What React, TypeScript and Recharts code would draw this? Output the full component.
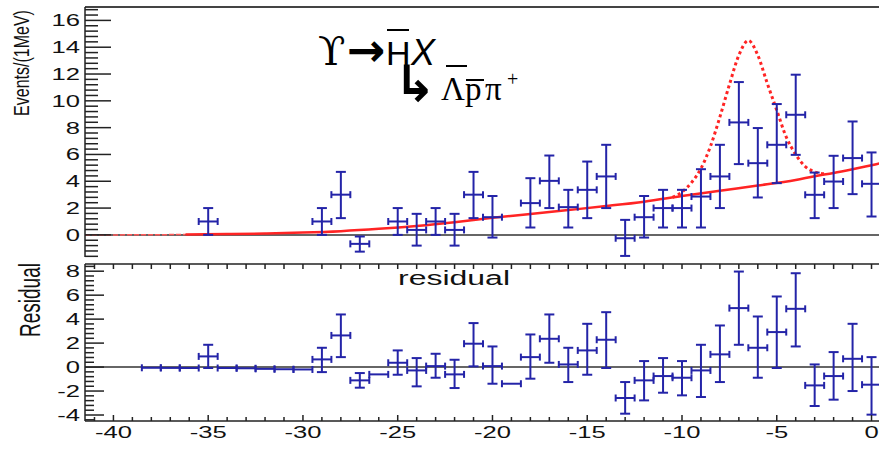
import React from 'react';
import { ComposedChart, Scatter, Line, XAxis, YAxis, ErrorBar, ReferenceLine } from 'recharts';

// upper panel: events per bin (bins of 1 MeV, centred on integers)
const topX = [-35, -29, -28, -27, -25, -24, -23, -22, -21, -20, -18, -17, -16, -15, -14, -13, -12, -11, -10, -9, -8, -7, -6, -5, -4, -3, -2, -1, 0];
const topY = [1.0, 1.0, 3.0, -0.67, 1.0, 0.37, 1.0, 0.37, 3.0, 1.32, 2.37, 4.03, 2.07, 3.36, 4.36, -0.25, 1.32, 2.0, 2.0, 2.86, 4.36, 8.39, 5.35, 6.72, 8.96, 2.99, 3.98, 5.73, 3.81];
const topLo = [0, 0, 1.25, -1.25, 0, -0.8, 0, -0.8, 1.25, -0.2, 0.55, 2.0, 0.55, 1.25, 2.0, -1.57, -0.2, 0.55, 0.55, 0.55, 2.0, 5.28, 2.79, 3.86, 5.97, 1.25, 2.0, 3.04, 1.37];
const topHi = [2.0, 2.0, 4.7, -0.12, 2.0, 1.57, 2.0, 1.57, 4.7, 2.9, 4.23, 5.92, 3.36, 5.47, 6.72, 1.12, 2.9, 3.36, 3.36, 4.9, 6.72, 11.4, 7.97, 9.76, 11.95, 4.65, 5.9, 8.46, 6.15];

// background fit (dashed outside the fit range, solid inside)
const fitOutX = [-41.5, -40, -38, -36.2];
const fitOutY = [0, 0, 0.01, 0.03];
const fitX = [-36.2, -34, -32, -30, -28, -26, -24, -22, -20, -18, -16, -14, -12, -10, -8, -6, -4, -3, -2, -1, 0, 0.5];
const fitY = [0.03, 0.06, 0.1, 0.17, 0.28, 0.45, 0.67, 0.95, 1.28, 1.56, 1.85, 2.15, 2.48, 2.9, 3.3, 3.68, 4.1, 4.38, 4.62, 4.9, 5.2, 5.35];

// signal + background (dotted)
const peakX = [-10.5, -10, -9.5, -9, -8.5, -8, -7.5, -7, -6.5, -6, -5.5, -5, -4.5, -4, -3.5, -3, -2.5];
const peakY = [2.8, 3.2, 3.9, 4.95, 6.6, 8.8, 11.2, 13.4, 14.5, 13.4, 11.3, 9.3, 7.3, 6.0, 5.1, 4.7, 4.55];

// lower panel: residuals
const resX = topX;
const resY = [0.89, 0.64, 2.64, -1.11, 0.36, -0.28, 0.08, -0.61, 1.95, 0.08, 0.83, 2.36, 0.22, 1.39, 2.28, -2.58, -1.11, -0.75, -0.89, -0.28, 1.06, 4.92, 1.61, 2.92, 4.86, -1.53, -0.75, 0.69, -1.47];
const resLo = [-0.08, -0.42, 0.83, -1.72, -0.64, -1.61, -0.89, -1.75, 0.06, -1.39, -0.97, 0.36, -1.25, -0.64, -0.08, -3.89, -2.78, -2.14, -2.36, -2.5, -1.25, 1.86, -0.89, -0.08, 1.72, -3.25, -2.72, -2.0, -3.97];
const resHi = [1.86, 1.61, 4.39, -0.5, 1.39, 0.75, 1.11, 0.61, 3.67, 1.72, 2.72, 4.39, 1.61, 3.61, 4.58, -1.25, 0.5, 0.75, 0.5, 1.86, 3.47, 7.97, 4.22, 5.89, 7.83, 0.22, 1.25, 3.61, 0.83];
const zeroX = [-38, -37, -36, -34, -33, -32, -31, -30, -26, -19];
const zeroRes = [-0.06, -0.07, -0.08, -0.08, -0.1, -0.15, -0.18, -0.2, -0.61, -1.39];

const xLabels = [-40, -35, -30, -25, -20, -15, -10, -5, 0];

const BLUE = '#2424a8';
const RED = '#ff2424';
const AX = '#222';
const W = 881;
const PL = 85;
const SX = 1.6;

const topPts = topX.map((x, i) => ({ x, y: topY[i], ey: [topY[i] - topLo[i], topHi[i] - topY[i]], ex: 0.5 }));
const resPts = resX.map((x, i) => ({ x, y: resY[i], ey: [resY[i] - resLo[i], resHi[i] - resY[i]], ex: 0.5 }));
const zeroPts = zeroX.map((x, i) => ({ x, y: zeroRes[i], ex: 0.5 }));
const fitOut = fitOutX.map((x, i) => ({ x, v: fitOutY[i] }));
const fit = fitX.map((x, i) => ({ x, v: fitY[i] }));
const peak = peakX.map((x, i) => ({ x, v: peakY[i] }));

const minorTicks = (lo: number, hi: number) => {
  const out: number[] = [];
  for (let k = Math.ceil(lo / 0.4); k * 0.4 <= hi; k++) out.push(Math.round(k * 0.4 * 10) / 10);
  return out;
};
const isMajor = (v: number) => Math.abs(v / 2 - Math.round(v / 2)) < 1e-6;
const xTicks: number[] = [];
for (let v = -41; v <= 0; v++) xTicks.push(v);

const label = (x: number, y: number, txt: string | number, anchor: string) => (
  <text transform={`translate(${x},${y}) scale(${SX},1)`} textAnchor={anchor} fontSize={16}
    fontFamily="'Liberation Sans', Arial, sans-serif" fill="#111">{txt}</text>
);

const yTick = (majLen: number, minLen: number) => (props: any) => {
  const { y, payload } = props;
  const v = payload.value;
  const major = isMajor(v);
  return (
    <g>
      <line x1={PL} x2={PL + (major ? majLen : minLen)} y1={y} y2={y} stroke={AX} strokeWidth={1.5} />
      {major && label(80, y + 6, Math.round(v), 'end')}
    </g>
  );
};

const BOT_H = 211;
const X_H = 52;
const PT = 2;
const PB = BOT_H - X_H;

const XTick = (props: any) => {
  const { x, payload } = props;
  const v = payload.value;
  const major = v % 5 === 0;
  return (
    <g>
      <line x1={x} x2={x} y1={PB} y2={PB - (major ? 6 : 4)} stroke={AX} strokeWidth={1.5} />
      <line x1={x} x2={x} y1={PT} y2={PT + 5} stroke={AX} strokeWidth={1.5} />
      {xLabels.includes(v) && label(x, 176, v, 'middle')}
    </g>
  );
};

const noDot = () => <g />;

export default function App() {
  return (
    <div style={{ position: 'absolute', left: 0, top: 0, width: 879, height: 473, overflow: 'hidden', background: '#fff' }}>
      <div style={{ position: 'absolute', left: 0, top: 0 }}>
        <ComposedChart width={W} height={260} margin={{ top: 7, right: 0, bottom: 3, left: 0 }}>
          <XAxis dataKey="x" type="number" domain={[-41.5, 0.5]} allowDataOverflow hide />
          <YAxis type="number" domain={[-1.65, 17]} allowDataOverflow width={PL} ticks={minorTicks(-1.65, 17)}
            interval={0} tickLine={false} axisLine={{ stroke: AX, strokeWidth: 1.5 }} tick={yTick(26, 13)} />
          <ReferenceLine y={17} stroke="#444" strokeWidth={2} />
          <ReferenceLine y={0} stroke="#333" strokeWidth={1.5} />
          <Line data={fitOut} dataKey="v" type="monotone" stroke="#ff5a5a" strokeWidth={1.5} strokeDasharray="5 2" dot={false} isAnimationActive={false} />
          <Line data={fit} dataKey="v" type="monotone" stroke={RED} strokeWidth={2.5} dot={false} isAnimationActive={false} />
          <Line data={peak} dataKey="v" type="monotone" stroke={RED} strokeWidth={3} strokeDasharray="3 3" dot={false} isAnimationActive={false} />
          <Scatter data={topPts} dataKey="y" shape={noDot} isAnimationActive={false}>
            <ErrorBar dataKey="ey" direction="y" width={5} stroke={BLUE} strokeWidth={2} />
            <ErrorBar dataKey="ex" direction="x" width={3.5} stroke={BLUE} strokeWidth={2} />
          </Scatter>
        </ComposedChart>
      </div>
      <div style={{ position: 'absolute', left: 0, top: 262, background: '#fff' }}>
        <ComposedChart width={W} height={BOT_H} margin={{ top: PT, right: 0, bottom: 0, left: 0 }}>
          <XAxis dataKey="x" type="number" domain={[-41.5, 0.5]} allowDataOverflow height={X_H} ticks={xTicks}
            interval={0} tickLine={false} axisLine={{ stroke: AX, strokeWidth: 1.5 }} tick={XTick} />
          <YAxis type="number" domain={[-4.5, 8.6]} allowDataOverflow width={PL} ticks={minorTicks(-4.5, 8.6)}
            interval={0} tickLine={false} axisLine={{ stroke: AX, strokeWidth: 1.5 }} tick={yTick(19, 9)} />
          <ReferenceLine y={8.6} stroke={AX} strokeWidth={1.5} />
          <ReferenceLine y={0} stroke="#333" strokeWidth={1.5} />
          <Scatter data={zeroPts} dataKey="y" shape={noDot} isAnimationActive={false}>
            <ErrorBar dataKey="ex" direction="x" width={3.5} stroke={BLUE} strokeWidth={2} />
          </Scatter>
          <Scatter data={resPts} dataKey="y" shape={noDot} isAnimationActive={false}>
            <ErrorBar dataKey="ey" direction="y" width={5} stroke={BLUE} strokeWidth={2} />
            <ErrorBar dataKey="ex" direction="x" width={3.5} stroke={BLUE} strokeWidth={2} />
          </Scatter>
        </ComposedChart>
      </div>
      <svg width={879} height={473} style={{ position: 'absolute', left: 0, top: 0, pointerEvents: 'none' }}>
        <text transform={`translate(29,63) scale(1.35,1) rotate(-90)`} textAnchor="middle" fontSize={16}
          fontFamily="'Liberation Sans', Arial, sans-serif" fill="#111">Events/(1MeV)</text>
        <text transform={`translate(40,300) scale(${SX},1) rotate(-90)`} textAnchor="middle" fontSize={19}
          fontFamily="'Liberation Sans', Arial, sans-serif" fill="#111">Residual</text>
        <text transform={`translate(454,285) scale(${SX},1)`} textAnchor="middle" fontSize={20}
          fontFamily="'Liberation Sans', Arial, sans-serif" fill="#111">residual</text>
        <g fill="#000">
          <text>
            <tspan x={318} y={65} fontSize={40} fontFamily="'DejaVu Serif', 'Liberation Serif', serif">ϒ</tspan>
            <tspan x={347} y={66} fontSize={46} fontWeight="bold" fontFamily="'DejaVu Sans', sans-serif">→</tspan>
            <tspan x={386} y={65} fontSize={34} fontFamily="'Liberation Sans', Arial, sans-serif">H</tspan>
            <tspan x={411} y={65} fontSize={36} fontStyle="italic" fontFamily="'Liberation Sans', Arial, sans-serif">X</tspan>
            <tspan x={394} y={101} fontSize={50} fontWeight="bold" fontFamily="'DejaVu Sans', sans-serif">↳</tspan>
            <tspan x={441} y={100} fontSize={33} fontFamily="'Liberation Serif', serif">Λ</tspan>
            <tspan x={465} y={100} fontSize={33} fontFamily="'Liberation Serif', serif">p</tspan>
            <tspan x={485} y={100} fontSize={33} fontFamily="'Liberation Serif', serif">π</tspan>
            <tspan x={507} y={86} fontSize={20} fontFamily="'Liberation Serif', serif">+</tspan>
          </text>
          <line x1={387} x2={409} y1={30} y2={30} stroke="#000" strokeWidth={2} />
          <line x1={446} x2={467} y1={66} y2={66} stroke="#000" strokeWidth={2} />
          <line x1={466} x2={484} y1={80} y2={80} stroke="#000" strokeWidth={2} />
        </g>
      </svg>
    </div>
  );
}
